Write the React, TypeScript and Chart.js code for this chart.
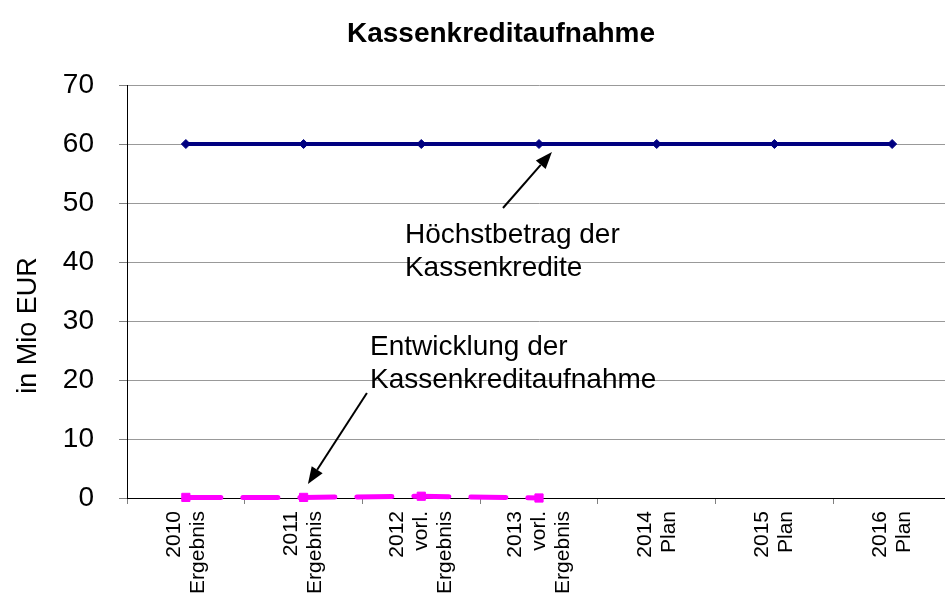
import React, { useEffect, useRef } from "react";
import { Chart, registerables } from "chart.js";

Chart.register(...registerables);

const categories: string[][] = [
  ["2010", "Ergebnis"],
  ["2011", "Ergebnis"],
  ["2012", "vorl.", "Ergebnis"],
  ["2013", "vorl.", "Ergebnis"],
  ["2014", "Plan"],
  ["2015", "Plan"],
  ["2016", "Plan"],
];
const hoechstbetrag = [60, 60, 60, 60, 60, 60, 60];
const kassenkreditaufnahme: (number | null)[] = [0.1, 0.1, 0.3, 0.0, null, null, null];
const yMin = 0;
const yMax = 70;
const yStep = 10;
const titleText = "Kassenkreditaufnahme";
const yAxisTitle = "in Mio EUR";

// annotation text + arrows, anchored in data coordinates (category index, value)
const annotations = [
  { lines: ["Höchstbetrag der", "Kassenkredite"], x: 1.861, y: 43.2, from: [2.694, 49.15], to: [3.11, 58.64] },
  { lines: ["Entwicklung der", "Kassenkreditaufnahme"], x: 1.564, y: 24.2, from: [1.538, 17.8], to: [1.037, 2.37] },
];

const FONT = '"Liberation Sans", Arial, sans-serif';

const overlayPlugin = {
  id: "overlay",
  afterDraw(chart: any) {
    const ctx = chart.ctx as CanvasRenderingContext2D;
    const xs = chart.scales.x;
    const ys = chart.scales.y;
    const area = chart.chartArea;
    ctx.save();
    ctx.fillStyle = "#000";
    // title
    ctx.font = `bold 28px ${FONT}`;
    ctx.textAlign = "center";
    ctx.textBaseline = "alphabetic";
    ctx.fillText(titleText, 501, 42);
    // y axis title
    ctx.save();
    ctx.font = `27px ${FONT}`;
    ctx.translate(36, (area.top + area.bottom) / 2 + 34);
    ctx.rotate(-Math.PI / 2);
    ctx.textAlign = "center";
    ctx.textBaseline = "alphabetic";
    ctx.fillText(yAxisTitle, 0, 0);
    ctx.restore();
    // x labels
    ctx.font = `21px ${FONT}`;
    categories.forEach((lines, i) => {
      const px = xs.getPixelForValue(i);
      ctx.save();
      ctx.translate(px, area.bottom + 13);
      ctx.rotate(-Math.PI / 2);
      ctx.textAlign = "right";
      ctx.textBaseline = "middle";
      const n = lines.length;
      lines.forEach((l, j) => {
        ctx.fillText(l, 0, (j - (n - 1) / 2) * 24);
      });
      ctx.restore();
    });
    // annotations
    annotations.forEach((a) => {
      ctx.font = `28px ${FONT}`;
      ctx.textAlign = "left";
      ctx.textBaseline = "alphabetic";
      const tx = xs.getPixelForValue(a.x);
      const ty = ys.getPixelForValue(a.y);
      a.lines.forEach((l, j) => ctx.fillText(l, tx, ty + j * 33));
      const x1 = xs.getPixelForValue(a.from[0]);
      const y1 = ys.getPixelForValue(a.from[1]);
      const x2 = xs.getPixelForValue(a.to[0]);
      const y2 = ys.getPixelForValue(a.to[1]);
      const ang = Math.atan2(y2 - y1, x2 - x1);
      const hl = 17;
      const hw = 6.5;
      const bx = x2 - hl * Math.cos(ang);
      const by = y2 - hl * Math.sin(ang);
      ctx.strokeStyle = "#000";
      ctx.lineWidth = 2;
      ctx.beginPath();
      ctx.moveTo(x1, y1);
      ctx.lineTo(bx, by);
      ctx.stroke();
      ctx.beginPath();
      ctx.moveTo(x2, y2);
      ctx.lineTo(bx + hw * Math.sin(ang), by - hw * Math.cos(ang));
      ctx.lineTo(bx - hw * Math.sin(ang), by + hw * Math.cos(ang));
      ctx.closePath();
      ctx.fill();
    });
    ctx.restore();
  },
};

export default function App() {
  const ref = useRef<HTMLCanvasElement | null>(null);
  useEffect(() => {
    if (!ref.current) return;
    const chart = new Chart(ref.current, {
      type: "line",
      data: {
        labels: categories.map((c) => c.join(" ")),
        datasets: [
          {
            label: "Höchstbetrag der Kassenkredite",
            data: hoechstbetrag,
            borderColor: "#000080",
            backgroundColor: "#000080",
            borderWidth: 4,
            pointStyle: "rectRot",
            pointRadius: 4.5,
            pointBorderWidth: 1,
            tension: 0,
            clip: false as any,
          },
          {
            label: "Entwicklung der Kassenkreditaufnahme",
            data: kassenkreditaufnahme,
            borderColor: "#ff00ff",
            backgroundColor: "#ff00ff",
            borderWidth: 5,
            borderDash: [35, 22],
            borderCapStyle: "round",
            pointStyle: "rect",
            pointRadius: 5.8,
            pointBorderWidth: 1,
            tension: 0,
            spanGaps: false,
            clip: false as any,
          },
        ],
      },
      options: {
        animation: false,
        responsive: false,
        devicePixelRatio: 1,
        layout: { padding: { top: 85, right: 9, bottom: 0, left: 0 } },
        plugins: {
          legend: { display: false },
          title: { display: false },
          tooltip: { enabled: false },
        },
        scales: {
          x: {
            type: "category",
            offset: true,
            grid: {
              offset: true,
              drawOnChartArea: false,
              drawTicks: true,
              tickLength: 6,
              tickColor: "#808080",
            },
            border: { display: true, color: "#000", width: 1 },
            ticks: { display: false },
            afterFit: (s: any) => {
              s.height = 97;
            },
          },
          y: {
            min: yMin,
            max: yMax,
            ticks: {
              stepSize: yStep,
              color: "#000",
              font: { size: 28, family: FONT },
              padding: 25,
            },
            grid: {
              color: "#999999",
              lineWidth: 1,
              drawTicks: true,
              tickLength: 8,
              tickColor: "#808080",
            },
            border: { display: true, color: "#000", width: 1 },
            afterFit: (s: any) => {
              s.width = 127;
            },
          },
        },
      },
      plugins: [overlayPlugin],
    });
    return () => chart.destroy();
  }, []);
  return (
    <div style={{ position: "absolute", left: 0, top: 0, width: 945, height: 595, overflow: "hidden", background: "#fff" }}>
      <canvas ref={ref} width={960} height={595} style={{ width: 960, height: 595, display: "block" }} />
    </div>
  );
}
